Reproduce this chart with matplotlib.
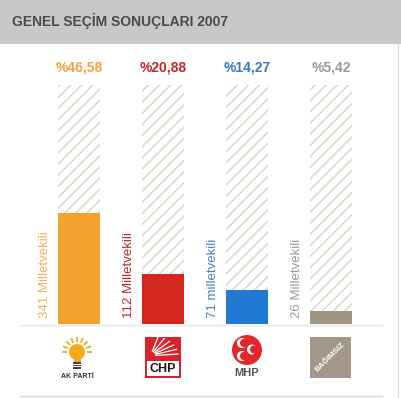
import numpy as np
import matplotlib.pyplot as plt
from matplotlib.patches import Rectangle, Circle

# election results 2007
parties = ["AK PARTİ", "CHP", "MHP", "BAĞIMSIZ"]
vote_pct = [46.58, 20.88, 14.27, 5.42]
pct_labels = ["%46,58", "%20,88", "%14,27", "%5,42"]
seat_labels = ["341 Milletvekili", "112 Milletvekili", "71 milletvekili",
               "26 Milletvekili"]
bar_colors = ["#f2a22f", "#d3261c", "#1f78d2", "#9e9682"]
pct_colors = ["#f2a444", "#c3262b", "#3a79c3", "#9a9a9a"]
seat_colors = ["#f0b060", "#c0282d", "#4a80c4", "#9a9a9a"]

W, H = 401, 398
plt.rcParams["font.family"] = ["Liberation Sans", "DejaVu Sans"]
plt.rcParams["hatch.linewidth"] = 1.1

fig = plt.figure(figsize=(W / 100, H / 100), dpi=100)
fig.patch.set_facecolor("white")

# pixel overlay for decorations
deco = fig.add_axes([0, 0, 1, 1])
deco.set_xlim(0, W)
deco.set_ylim(H, 0)
deco.axis("off")

deco.add_patch(Rectangle((0, 0), W, 44, color="#c8c8c8", lw=0))
deco.text(12, 21, "GENEL SEÇİM SONUÇLARI 2007", fontsize=10,
          fontweight="bold", color="#474b50", va="center", ha="left")
deco.plot([397.5, 397.5], [44, H], color="#dcdcdc", lw=1)
deco.plot([20, 382], [324.5, 324.5], color="#d2d2d2", lw=1)
deco.plot([20, 382], [326, 326], color="#f0f0f0", lw=1.5)
deco.plot([20, 382], [395.5, 395.5], color="#d8d8d8", lw=1)

# bars, y in percent
ax = fig.add_axes([0, (H - 324) / H, 1, 239 / H])
x = np.arange(len(parties))
ax.set_xlim(-79 / 84, (W - 79) / 84)
ax.set_ylim(0, 100)
ax.axis("off")
ax.patch.set_alpha(0)

ax.bar(x, [100] * len(x), width=0.5, facecolor="white", edgecolor="#d9d5ca",
       hatch="///", linewidth=0)
ax.bar(x, vote_pct, width=0.5, color=bar_colors, linewidth=0)

for i in range(len(x)):
    ax.annotate(pct_labels[i], (x[i], 100), xytext=(0, 12.5),
                textcoords="offset points", ha="center", va="center",
                fontsize=10, fontweight="bold", color=pct_colors[i])
    ax.annotate(seat_labels[i], (x[i] - 0.4, 0), xytext=(0, 4),
                textcoords="offset points", ha="center", va="bottom",
                rotation=90, fontsize=9.5, color=seat_colors[i])

# logos (rough sketches)
# AK Parti bulb
cx, cy = 77, 352
for a in np.linspace(np.pi * 0.0, np.pi, 9):
    deco.plot([cx + 10 * np.cos(a), cx + 15 * np.cos(a)],
              [cy - 10 * np.sin(a), cy - 15 * np.sin(a)],
              color="#f5a623", lw=1.3, solid_capstyle="butt")
deco.add_patch(Circle((cx, cy), 8, color="#f7a81b", lw=0))
deco.add_patch(Rectangle((cx - 3.5, cy + 6), 7, 4, color="#f7a81b", lw=0))
for k in range(3):
    deco.add_patch(Rectangle((cx - 4, cy + 10 + k * 2.5), 8, 1.6,
                             color="#444444", lw=0))
deco.text(cx, 377, "AK PARTİ", fontsize=5, fontweight="bold",
          color="#333333", ha="center", va="center")

# CHP
deco.add_patch(Rectangle((145, 337), 36, 41, color="#d9232a", lw=0))
deco.add_patch(Rectangle((147, 361), 32, 15, color="white", lw=0))
ox, oy = 151, 356
for a in np.linspace(0.1, 1.3, 6):
    deco.plot([ox + 5 * np.cos(a), ox + 27 * np.cos(a)],
              [oy - 5 * np.sin(a), oy - 20 * np.sin(a)],
              color="white", lw=0.9)
deco.text(163, 369.5, "CHP", fontsize=9, fontweight="bold",
          color="#1a1a1a", ha="center", va="center")

# MHP
mx, my = 247, 350
deco.add_patch(Circle((mx, my), 15, color="#e3262b", lw=0))
for px, py in [(242, 343), (242, 356), (252, 349.5)]:
    deco.add_patch(Circle((px, py), 5, color="white", lw=0))
    deco.add_patch(Circle((px + 2.2, py), 4.2, color="#e3262b", lw=0))
deco.text(mx, 373.5, "MHP", fontsize=8, fontweight="bold",
          color="#555555", ha="center", va="center")

# Bağımsız
deco.add_patch(Rectangle((310, 337), 41, 41, color="#a3978a", lw=0))
deco.text(330.5, 357.5, "BAĞIMSIZ", fontsize=5.8, fontweight="bold",
          color="white", ha="center", va="center", rotation=45)

fig.savefig("out.png", dpi=100)
